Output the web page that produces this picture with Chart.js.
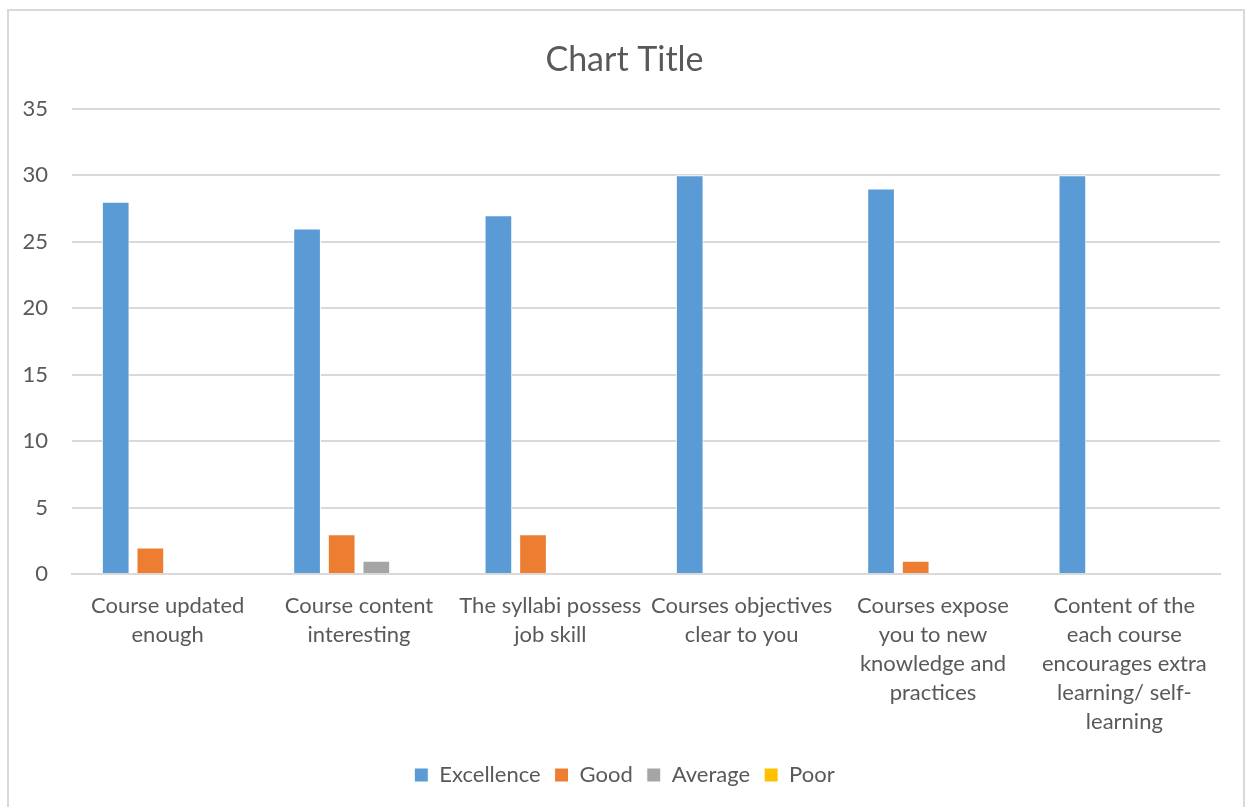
<!DOCTYPE html>
<html>
<head>
<meta charset="utf-8">
<script src="https://cdn.jsdelivr.net/npm/chart.js@4.4.0/dist/chart.umd.min.js"></script>
<style>
  html, body { margin: 0; padding: 0; background: #fff; overflow: hidden; }
  #marco {
    position: absolute; left: 7px; top: 9px; width: 1238px; height: 820px;
    border: 2px solid #d9d9d9; box-sizing: border-box;
  }
  #lienzo { position: absolute; left: 0; top: 0; width: 1249px; height: 807px; }
</style>
</head>
<body>
<div id="marco"></div>
<div id="lienzo"><canvas id="grafico" width="1249" height="807"></canvas></div>
<script>
// Datos
const categorias = [
    ['Course updated', 'enough'],
    ['Course content', 'interesting'],
    ['The syllabi possess', 'job skill'],
    ['Courses objectives', 'clear to you'],
    ['Courses expose', 'you to new', 'knowledge and', 'practices'],
    ['Content of the', 'each course', 'encourages extra', 'learning/ self-', 'learning']
];
const excelencia = [28, 26, 27, 30, 29, 30];
const bueno = [2, 3, 3, 0, 1, 0];
const promedio = [0, 1, 0, 0, 0, 0];
const pobre = [0, 0, 0, 0, 0, 0];
const marcasY = [0, 5, 10, 15, 20, 25, 30, 35];

const fuente = 'Lato, "Open Sans", sans-serif';
const gris = '#595959';

function serie(nombre, valores, color) {
    return {
        label: nombre,
        data: valores,
        backgroundColor: color,
        borderColor: '#ffffff',
        borderWidth: 1,
        categoryPercentage: 0.724,
        barPercentage: 0.8
    };
}

document.addEventListener('DOMContentLoaded', function() {
    const ctx = document.getElementById('grafico').getContext('2d');
    new Chart(ctx, {
        type: 'bar',
        data: {
            labels: categorias,
            datasets: [
                serie('Excellence', excelencia, '#5b9bd5'),
                serie('Good', bueno, '#ed7d31'),
                serie('Average', promedio, '#a5a5a5'),
                serie('Poor', pobre, '#ffc000')
            ]
        },
        options: {
            responsive: false,
            animation: false,
            layout: { padding: { left: 0, right: 0, top: 0, bottom: 11 } },
            scales: {
                x: {
                    grid: { display: false },
                    border: { color: '#d9d9d9', width: 2 },
                    ticks: {
                        color: gris,
                        maxRotation: 0,
                        autoSkip: false,
                        padding: 9,
                        font: { family: fuente, size: 22, lineHeight: 1.32 }
                    },
                    afterFit: function(escala) { escala.height = 176; }
                },
                y: {
                    min: 0,
                    max: 35,
                    afterBuildTicks: function(escala) {
                        escala.ticks = marcasY.map(v => ({ value: v }));
                    },
                    grid: { color: '#d9d9d9', lineWidth: 2, drawTicks: false },
                    border: { display: false },
                    ticks: {
                        color: gris,
                        padding: 24,
                        font: { family: fuente, size: 22 }
                    },
                    afterFit: function(escala) { escala.width = 72; }
                },
                // eje vacío a la derecha para dejar el margen
                derecha: {
                    position: 'right',
                    display: true,
                    grid: { display: false },
                    border: { display: false },
                    ticks: { display: false },
                    afterFit: function(escala) { escala.width = 29; }
                }
            },
            plugins: {
                title: {
                    display: true,
                    text: 'Chart Title',
                    color: gris,
                    font: { family: fuente, size: 34, weight: 'normal', lineHeight: 1.2 },
                    padding: { top: 40, bottom: 28 }
                },
                legend: {
                    position: 'bottom',
                    labels: {
                        color: gris,
                        boxWidth: 14,
                        boxHeight: 14,
                        padding: 14,
                        font: { family: fuente, size: 22 }
                    }
                },
                tooltip: { enabled: false }
            }
        }
    });
});
</script>
</body>
</html>
